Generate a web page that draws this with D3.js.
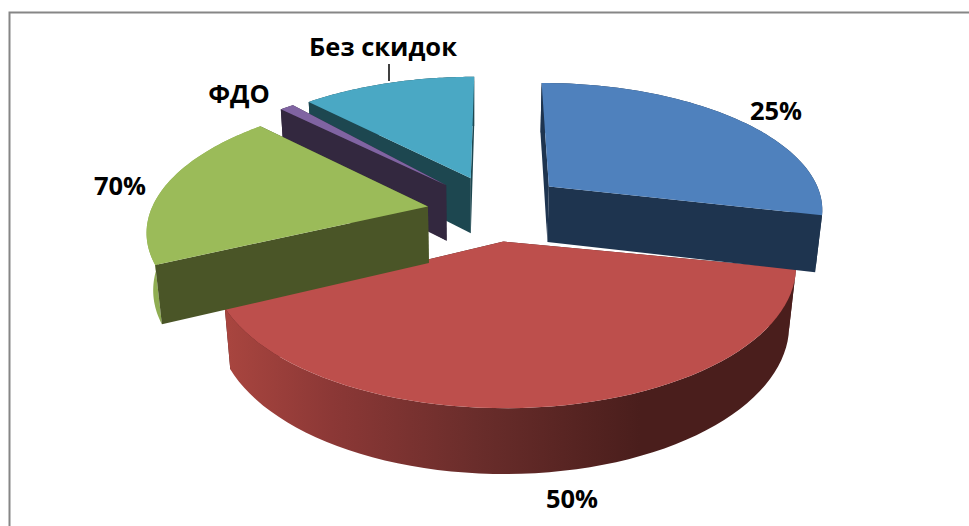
<!DOCTYPE html>
<html><head><meta charset="utf-8">
<script src="https://cdn.jsdelivr.net/npm/d3@7"></script>
<style>html,body{margin:0;padding:0;background:#fff;overflow:hidden}svg{display:block}
text{font-family:"Open Sans",sans-serif;font-weight:700;fill:#000}</style></head><body>
<svg id="c" width="969" height="526"></svg>
<script>
const categories = ["25%", "50%", "70%", "ФДО", "Без скидок"];
const values = [28.7, 38.6, 20.2, 1.0, 11.5];
const offsetX = [0.197, 0.026, -0.247, -0.186, -0.095];
const offsetY = [-0.15, 0.277, 0.012, -0.16, -0.22];
const startAdjust = [0, -0.04, 0.04, 0, -0.04];
const endAdjust = [0, 0.025, 0, 0, 0];
const topColors = ["#4f81bd", "#bd4f4c", "#9bbb59", "#8064a2", "#4aa8c4"];
const wallColors = ["#1e344f", "#4a1e1c", "#8fad52", "#33283f", "#1d4750"];
const faceColors = ["#1e344f", "#4a1e1c", "#4a5527", "#33283f", "#1d4750"];
const labelX = [776, 572, 120, 239, 383];
const labelY = [120, 508, 195, 103, 56];

const W = 969, H = 526;
const cx = 496, cy = 205, vx = 473, rx = 275, ry = 126, thick = 57.5, k = 0.163, m = 0.02;
const svg = d3.select("#c");
const defs = svg.append("defs");
const grad = defs.append("linearGradient").attr("id", "redWall").attr("gradientUnits", "userSpaceOnUse")
  .attr("x1", 228).attr("x2", 640).attr("y1", 0).attr("y2", 0);
[[0, "#a8453f"], [0.25, "#8c3836"], [0.6, "#6a2d2b"], [1, "#4a1e1c"]].forEach(s =>
  grad.append("stop").attr("offset", s[0]).attr("stop-color", s[1]));

// frame
svg.append("path").attr("d", `M9.5,${H} V12.5 H${W}`).attr("fill", "none").attr("stroke", "#868686").attr("stroke-width", 2);

function proj(x, y, z) {
  const d = 1 - k * y;
  const topX = cx + rx * x / d;
  return [vx + (topX - vx) * d / (d + m * z), cy + (ry * y + thick * z) / (d + m * z)];
}
const pie = d3.pie().sort(null).value(d => d).startAngle(0).endAngle(2 * Math.PI);
const arcs = pie(values);
const line = d3.line().curve(d3.curveLinear);

function drawSlice(a) {
  const i = a.index;
  const ox = offsetX[i], oy = offsetY[i];
  const start = a.startAngle + startAdjust[i], end = a.endAngle + endAdjust[i];
  const ang = d3.range(0, 61).map(t => start + (end - start) * t / 60);
  const P = (r, t, z) => proj(ox + r * Math.sin(t), oy - r * Math.cos(t), z);
  const g = svg.append("g").attr("class", "slice");
  const face = t => g.append("path")
    .attr("d", line([P(0, t, 0), P(1, t, 0), P(1, t, 1), P(0, t, 1)]) + "Z")
    .attr("fill", faceColors[i]);
  const startFront = -Math.sin(start) > 0;
  const endFront = Math.sin(end) > 0;
  // back-facing cut faces
  if (!startFront) face(start);
  if (!endFront) face(end);
  // outer wall
  const wall = ang.map(t => P(1, t, 0)).concat(ang.slice().reverse().map(t => P(1, t, 1)));
  g.append("path").attr("d", line(wall) + "Z").attr("fill", i === 1 ? "url(#redWall)" : wallColors[i]);
  // front-facing cut faces
  if (startFront) face(start);
  if (endFront) face(end);
  // top
  const top = [P(0, 0, 0)].concat(ang.map(t => P(1, t, 0)));
  g.append("path").attr("d", line(top) + "Z").attr("fill", topColors[i]);
}
// back-to-front painting
[4, 3, 1, 0, 2].forEach(i => drawSlice(arcs[i]));

// leader
svg.append("line").attr("x1", 389).attr("x2", 389).attr("y1", 64).attr("y2", 81).attr("stroke", "#000").attr("stroke-width", 1.5);
// labels
categories.forEach((c, i) => svg.append("text").attr("x", labelX[i]).attr("y", labelY[i])
  .attr("text-anchor", "middle").attr("font-size", 25.5).text(c));
</script></body></html>
